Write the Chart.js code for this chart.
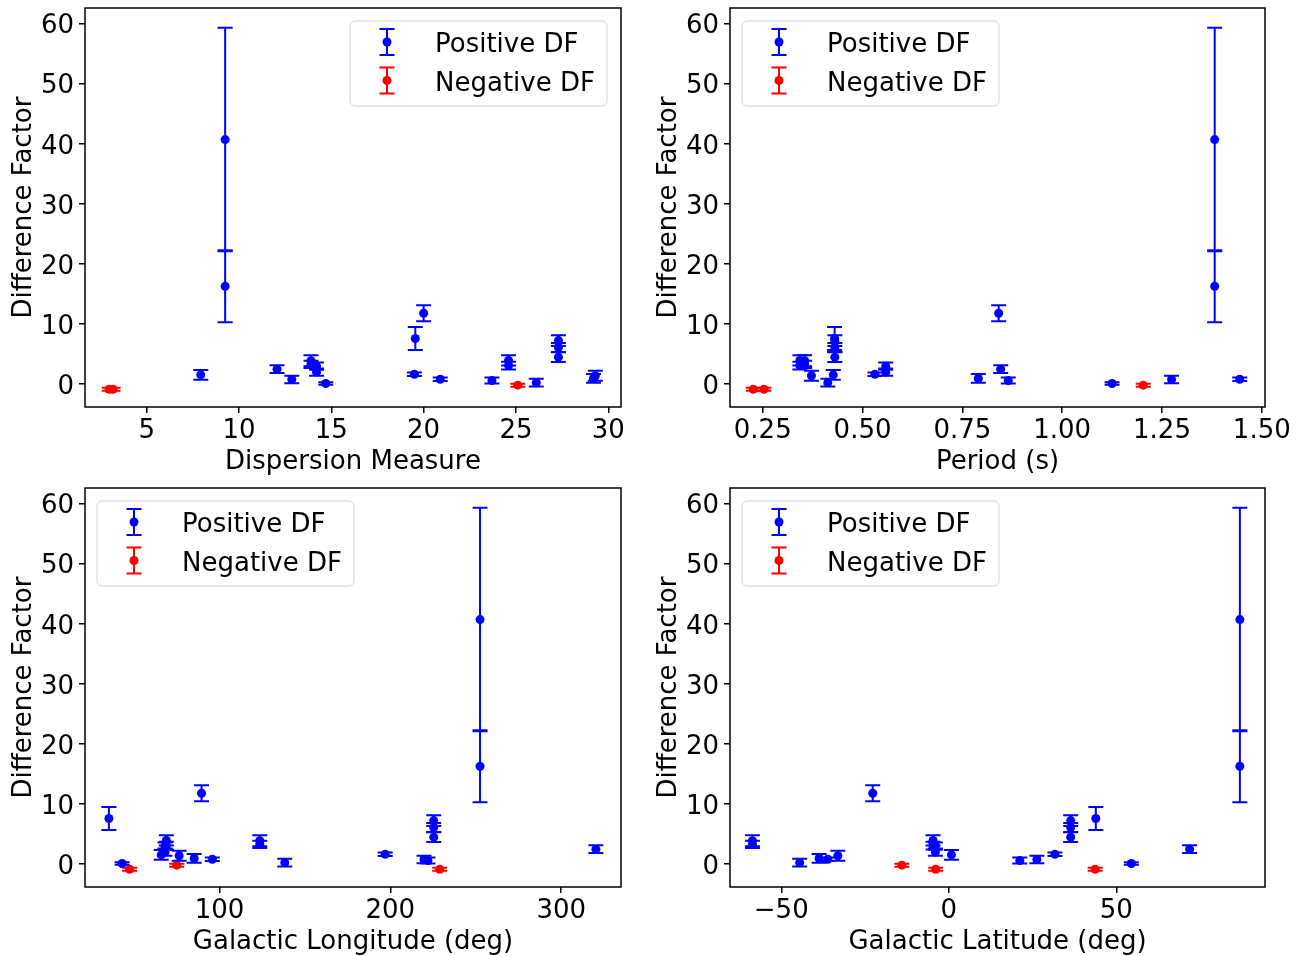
<!DOCTYPE html>
<html lang="en">
<head>
<meta charset="UTF-8">
<title>Difference Factor</title>
<script src="https://cdn.jsdelivr.net/npm/chart.js@4.4.0/dist/chart.umd.min.js"></script>
<style>
    body { margin: 0; background: #ffffff; }
    .painel { position: absolute; }
</style>
</head>
<body>
    <!-- quatro paineis, 2x2 -->
    <canvas class="painel" id="chartDM" width="657" height="476" style="left:0px;top:0px"></canvas>
    <canvas class="painel" id="chartPeriod" width="669" height="476" style="left:645px;top:0px"></canvas>
    <canvas class="painel" id="chartGLon" width="657" height="476" style="left:0px;top:480px"></canvas>
    <canvas class="painel" id="chartGLat" width="669" height="476" style="left:645px;top:480px"></canvas>

<script>
    /* Positive DF (azul) */
    var posDF     = [40.7, 16.3, 11.8, 7.6, 7.25, 6.1, 4.5, 3.9, 3.3, 3.95, 3.1, 3.0, 2.0, 2.5, 1.65, 1.55, 1.4, 0.95, 0.82, 0.77, 0.6, 0.25, 0.12];
    var posErr    = [18.6, 6.0, 1.35, 1.9, 0.9, 0.75, 0.8, 0.9, 0.6, 0.85, 0.65, 0.6, 0.6, 0.65, 0.3, 0.8, 0.85, 0.73, 0.3, 0.62, 0.5, 0.65, 0.2];
    var posDM     = [9.25, 9.25, 20.0, 19.55, 27.3, 27.3, 27.3, 13.9, 13.9, 24.6, 24.6, 14.2, 14.2, 12.06, 19.5, 7.93, 29.3, 29.2, 20.9, 12.86, 23.7, 26.1, 14.7];
    var posPeriod = [1.382, 1.382, 0.841, 0.43, 0.4306, 0.4306, 0.4306, 0.355, 0.355, 0.343, 0.343, 0.558, 0.558, 0.846, 0.531, 0.4267, 0.372, 0.79, 1.4447, 1.274, 0.865, 0.413, 1.125];
    var posGLon   = [252.5, 252.5, 89.5, 35.3, 225.4, 225.4, 225.4, 123.6, 123.6, 68.9, 68.9, 68.1, 68.1, 320.3, 197.0, 65.9, 76.4, 85.2, 95.8, 219.7, 222.0, 138.2, 43.0];
    var posGLat   = [86.9, 86.9, -22.7, 43.9, 36.4, 36.4, 36.4, -58.6, -58.6, -4.7, -4.7, -4.0, -4.0, 71.9, 31.7, 0.8, -33.1, -38.7, -36.1, 26.3, 21.2, -44.5, 54.5];

    /* Negative DF (vermelho) */
    var negDF     = [-0.85, -0.85, -0.17];
    var negErr    = [0.25, 0.25, 0.25];
    var negDM     = [2.97, 3.18, 25.1];
    var negPeriod = [0.253, 0.2265, 1.203];
    var negGLon   = [228.9, 47.4, 75.0];
    var negGLat   = [43.7, -3.9, -14.0];

    /* ticks */
    var yTicks = [0, 10, 20, 30, 40, 50, 60];
    var dmTicks = [5, 10, 15, 20, 25, 30];
    var dmLabels = ['5', '10', '15', '20', '25', '30'];
    var periodTicks = [0.25, 0.5, 0.75, 1.0, 1.25, 1.5];
    var periodLabels = ['0.25', '0.50', '0.75', '1.00', '1.25', '1.50'];
    var glonTicks = [100, 200, 300];
    var glonLabels = ['100', '200', '300'];
    var glatTicks = [-50, 0, 50];
    var glatLabels = ['\u221250', '0', '50'];

    var fonte = '"DejaVu Sans", sans-serif';
    var azul = '#0000ff';
    var vermelho = '#ff0000';

    function pontos(xs, ys) {
        return xs.map(function (v, i) { return { x: v, y: ys[i] }; });
    }

    /* barras de erro verticais com capas */
    function desenhaBarra(ctx, x, yTop, yBot, cor) {
        ctx.strokeStyle = cor;
        ctx.lineWidth = 2;
        ctx.beginPath();
        ctx.moveTo(x, yTop); ctx.lineTo(x, yBot);
        ctx.moveTo(x - 7.5, yTop); ctx.lineTo(x + 7.5, yTop);
        ctx.moveTo(x - 7.5, yBot); ctx.lineTo(x + 7.5, yBot);
        ctx.stroke();
    }

    var errorBars = {
        id: 'errorBars',
        beforeDatasetDraw: function (chart, args) {
            var ds = chart.data.datasets[args.index];
            var y = chart.scales.y;
            var ctx = chart.ctx;
            ctx.save();
            args.meta.data.forEach(function (pt, i) {
                var v = ds.data[i].y, e = ds.errors[i];
                desenhaBarra(ctx, pt.x, y.getPixelForValue(v + e), y.getPixelForValue(v - e), ds.borderColor);
            });
            ctx.restore();
        }
    };

    var moldura = {
        id: 'moldura',
        afterDatasetsDraw: function (chart) {
            var a = chart.chartArea, ctx = chart.ctx;
            ctx.save();
            ctx.strokeStyle = 'black';
            ctx.lineWidth = 1.5;
            ctx.strokeRect(a.left, a.top, a.right - a.left, a.bottom - a.top);
            ctx.restore();
        }
    };

    var legenda = {
        id: 'legenda',
        afterDraw: function (chart, args, opts) {
            var a = chart.chartArea, ctx = chart.ctx;
            var w = 257, h = 85;
            var x0 = opts.side === 'right' ? a.right - 14 - w : a.left + 12;
            var y0 = a.top + 13;
            ctx.save();
            ctx.beginPath();
            ctx.roundRect(x0, y0, w, h, 5);
            ctx.fillStyle = 'rgba(255,255,255,0.8)';
            ctx.fill();
            ctx.strokeStyle = '#d4d4d4';
            ctx.lineWidth = 1;
            ctx.stroke();
            chart.data.datasets.forEach(function (ds, i) {
                var cy = y0 + 21 + i * 38.5;
                var cx = x0 + 37;
                desenhaBarra(ctx, cx, cy - 13, cy + 13, ds.borderColor);
                ctx.beginPath();
                ctx.arc(cx, cy, 4.5, 0, Math.PI * 2);
                ctx.fillStyle = ds.backgroundColor;
                ctx.fill();
                ctx.fillStyle = 'black';
                ctx.font = '26px ' + fonte;
                ctx.textBaseline = 'alphabetic';
                ctx.textAlign = 'left';
                ctx.fillText(ds.label, x0 + 85, cy + 10);
            });
            ctx.restore();
        }
    };

    function criaGrafico(id, xPos, xNeg, xMin, xMax, xTicks, xLabels, xTitle, lado, padRight) {
        var ctx = document.getElementById(id).getContext('2d');
        return new Chart(ctx, {
            type: 'scatter',
            data: {
                datasets: [{
                    label: 'Positive DF',
                    data: pontos(xPos, posDF),
                    errors: posErr,
                    backgroundColor: azul,
                    borderColor: azul,
                    borderWidth: 0,
                    pointRadius: 4.5
                }, {
                    label: 'Negative DF',
                    data: pontos(xNeg, negDF),
                    errors: negErr,
                    backgroundColor: vermelho,
                    borderColor: vermelho,
                    borderWidth: 0,
                    pointRadius: 4.5
                }]
            },
            options: {
                responsive: false,
                animation: false,
                events: [],
                layout: { padding: { left: 0, right: padRight, top: 8, bottom: 0 } },
                plugins: {
                    legend: { display: false },
                    tooltip: { enabled: false },
                    legenda: { side: lado }
                },
                scales: {
                    x: {
                        type: 'linear',
                        min: xMin,
                        max: xMax,
                        afterBuildTicks: function (s) { s.ticks = xTicks.map(function (v) { return { value: v }; }); },
                        afterFit: function (s) { s.height = 69; s.paddingLeft = 0; s.paddingRight = 0; },
                        ticks: {
                            callback: function (v, i) { return xLabels[i]; },
                            font: { size: 26, family: fonte },
                            color: 'black',
                            padding: 3,
                            maxRotation: 0,
                            autoSkip: false
                        },
                        grid: { drawOnChartArea: false, drawTicks: true, tickLength: 6, color: 'black', lineWidth: 1.5 },
                        border: { display: false },
                        title: { display: true, text: xTitle, font: { size: 26, family: fonte }, color: 'black', padding: { top: 0, bottom: -2 } }
                    },
                    y: {
                        type: 'linear',
                        min: -3.8,
                        max: 62.6,
                        afterBuildTicks: function (s) { s.ticks = yTicks.map(function (v) { return { value: v }; }); },
                        afterFit: function (s) { s.width = 85; s.paddingTop = 0; s.paddingBottom = 0; },
                        ticks: {
                            callback: function (v) { return String(v); },
                            font: { size: 26, family: fonte },
                            color: 'black',
                            padding: 5,
                            labelOffset: 3
                        },
                        grid: { drawOnChartArea: false, drawTicks: true, tickLength: 6, color: 'black', lineWidth: 1.5 },
                        border: { display: false },
                        title: { display: true, text: 'Difference Factor', font: { size: 26, family: fonte }, color: 'black', padding: { top: 9, bottom: 0 } }
                    }
                }
            },
            plugins: [errorBars, moldura, legenda]
        });
    }

    criaGrafico('chartDM', posDM, negDM, 1.66, 30.69, dmTicks, dmLabels, 'Dispersion Measure', 'right', 36);
    criaGrafico('chartPeriod', posPeriod, negPeriod, 0.168, 1.508, periodTicks, periodLabels, 'Period (s)', 'left', 49);
    criaGrafico('chartGLon', posGLon, negGLon, 21.3, 335.0, glonTicks, glonLabels, 'Galactic Longitude (deg)', 'left', 36);
    criaGrafico('chartGLat', posGLat, negGLat, -65.3, 94.4, glatTicks, glatLabels, 'Galactic Latitude (deg)', 'left', 49);
</script>
</body>
</html>
